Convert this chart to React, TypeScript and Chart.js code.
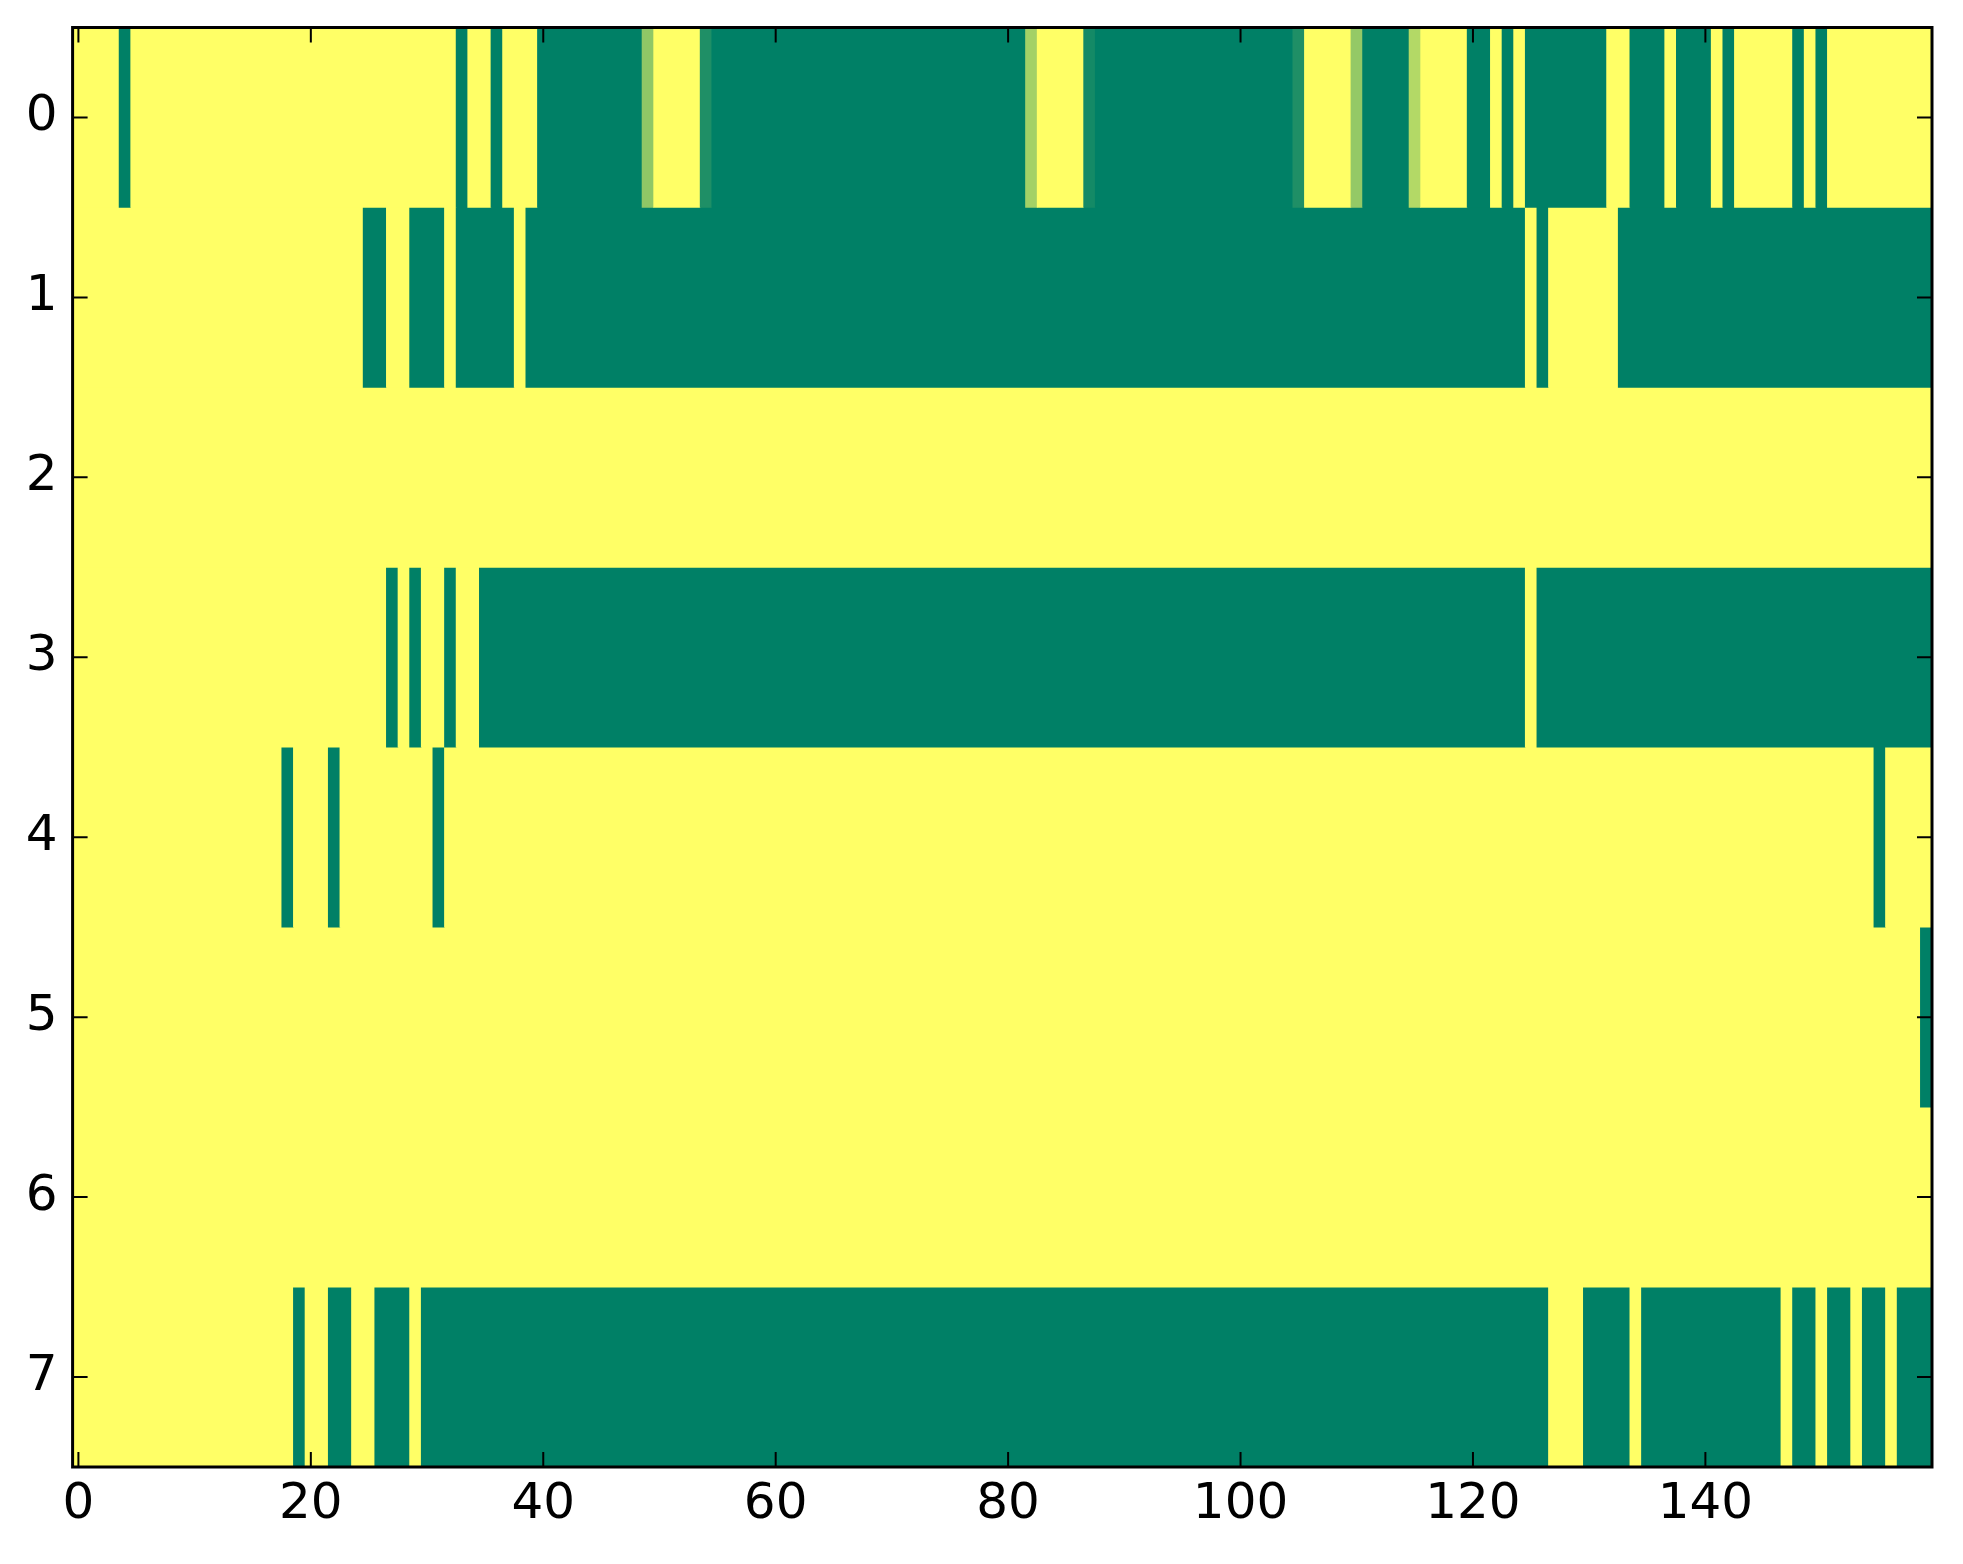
import React, { useEffect, useRef } from 'react';
import { Chart, registerables } from 'chart.js';

Chart.register(...registerables);

// Row labels (y axis) and x tick values
const rowLabels = ['0', '1', '2', '3', '4', '5', '6', '7'];
const xTickValues = [0, 20, 40, 60, 80, 100, 120, 140];

// Cell values, 160 columns per row (0 = yellow, 1 = green, summer_r colormap)
const row0 = [
  0,0,0,0,1,0,0,0,0,0,0,0,0,0,0,0,0,0,0,0,
  0,0,0,0,0,0,0,0,0,0,0,0,0,1,0,0,1,0,0,0,
  1,1,1,1,1,1,1,1,1,0.44,0,0,0,0,0.88,1,1,1,1,1,
  1,1,1,1,1,1,1,1,1,1,1,1,1,1,1,1,1,1,1,1,
  1,1,0.36,0,0,0,0,0.92,1,1,1,1,1,1,1,1,1,1,1,1,
  1,1,1,1,1,0.88,0,0,0,0,0.42,1,1,1,1,0.3,0,0,0,0,
  1,1,0,1,0,1,1,1,1,1,1,1,0,0,1,1,1,0,1,1,
  1,0,1,0,0,0,0,0,1,0,1,0,0,0,0,0,0,0,0,0,
];
const row1 = [
  0,0,0,0,0,0,0,0,0,0,0,0,0,0,0,0,0,0,0,0,
  0,0,0,0,0,1,1,0,0,1,1,1,0,1,1,1,1,1,0,1,
  1,1,1,1,1,1,1,1,1,1,1,1,1,1,1,1,1,1,1,1,
  1,1,1,1,1,1,1,1,1,1,1,1,1,1,1,1,1,1,1,1,
  1,1,1,1,1,1,1,1,1,1,1,1,1,1,1,1,1,1,1,1,
  1,1,1,1,1,1,1,1,1,1,1,1,1,1,1,1,1,1,1,1,
  1,1,1,1,1,0,1,0,0,0,0,0,0,1,1,1,1,1,1,1,
  1,1,1,1,1,1,1,1,1,1,1,1,1,1,1,1,1,1,1,1,
];
const row2 = [
  0,0,0,0,0,0,0,0,0,0,0,0,0,0,0,0,0,0,0,0,
  0,0,0,0,0,0,0,0,0,0,0,0,0,0,0,0,0,0,0,0,
  0,0,0,0,0,0,0,0,0,0,0,0,0,0,0,0,0,0,0,0,
  0,0,0,0,0,0,0,0,0,0,0,0,0,0,0,0,0,0,0,0,
  0,0,0,0,0,0,0,0,0,0,0,0,0,0,0,0,0,0,0,0,
  0,0,0,0,0,0,0,0,0,0,0,0,0,0,0,0,0,0,0,0,
  0,0,0,0,0,0,0,0,0,0,0,0,0,0,0,0,0,0,0,0,
  0,0,0,0,0,0,0,0,0,0,0,0,0,0,0,0,0,0,0,0,
];
const row3 = [
  0,0,0,0,0,0,0,0,0,0,0,0,0,0,0,0,0,0,0,0,
  0,0,0,0,0,0,0,1,0,1,0,0,1,0,0,1,1,1,1,1,
  1,1,1,1,1,1,1,1,1,1,1,1,1,1,1,1,1,1,1,1,
  1,1,1,1,1,1,1,1,1,1,1,1,1,1,1,1,1,1,1,1,
  1,1,1,1,1,1,1,1,1,1,1,1,1,1,1,1,1,1,1,1,
  1,1,1,1,1,1,1,1,1,1,1,1,1,1,1,1,1,1,1,1,
  1,1,1,1,1,0,1,1,1,1,1,1,1,1,1,1,1,1,1,1,
  1,1,1,1,1,1,1,1,1,1,1,1,1,1,1,1,1,1,1,1,
];
const row4 = [
  0,0,0,0,0,0,0,0,0,0,0,0,0,0,0,0,0,0,1,0,
  0,0,1,0,0,0,0,0,0,0,0,1,0,0,0,0,0,0,0,0,
  0,0,0,0,0,0,0,0,0,0,0,0,0,0,0,0,0,0,0,0,
  0,0,0,0,0,0,0,0,0,0,0,0,0,0,0,0,0,0,0,0,
  0,0,0,0,0,0,0,0,0,0,0,0,0,0,0,0,0,0,0,0,
  0,0,0,0,0,0,0,0,0,0,0,0,0,0,0,0,0,0,0,0,
  0,0,0,0,0,0,0,0,0,0,0,0,0,0,0,0,0,0,0,0,
  0,0,0,0,0,0,0,0,0,0,0,0,0,0,0,1,0,0,0,0,
];
const row5 = [
  0,0,0,0,0,0,0,0,0,0,0,0,0,0,0,0,0,0,0,0,
  0,0,0,0,0,0,0,0,0,0,0,0,0,0,0,0,0,0,0,0,
  0,0,0,0,0,0,0,0,0,0,0,0,0,0,0,0,0,0,0,0,
  0,0,0,0,0,0,0,0,0,0,0,0,0,0,0,0,0,0,0,0,
  0,0,0,0,0,0,0,0,0,0,0,0,0,0,0,0,0,0,0,0,
  0,0,0,0,0,0,0,0,0,0,0,0,0,0,0,0,0,0,0,0,
  0,0,0,0,0,0,0,0,0,0,0,0,0,0,0,0,0,0,0,0,
  0,0,0,0,0,0,0,0,0,0,0,0,0,0,0,0,0,0,0,1,
];
const row6 = [
  0,0,0,0,0,0,0,0,0,0,0,0,0,0,0,0,0,0,0,0,
  0,0,0,0,0,0,0,0,0,0,0,0,0,0,0,0,0,0,0,0,
  0,0,0,0,0,0,0,0,0,0,0,0,0,0,0,0,0,0,0,0,
  0,0,0,0,0,0,0,0,0,0,0,0,0,0,0,0,0,0,0,0,
  0,0,0,0,0,0,0,0,0,0,0,0,0,0,0,0,0,0,0,0,
  0,0,0,0,0,0,0,0,0,0,0,0,0,0,0,0,0,0,0,0,
  0,0,0,0,0,0,0,0,0,0,0,0,0,0,0,0,0,0,0,0,
  0,0,0,0,0,0,0,0,0,0,0,0,0,0,0,0,0,0,0,0,
];
const row7 = [
  0,0,0,0,0,0,0,0,0,0,0,0,0,0,0,0,0,0,0,1,
  0,0,1,1,0,0,1,1,1,0,1,1,1,1,1,1,1,1,1,1,
  1,1,1,1,1,1,1,1,1,1,1,1,1,1,1,1,1,1,1,1,
  1,1,1,1,1,1,1,1,1,1,1,1,1,1,1,1,1,1,1,1,
  1,1,1,1,1,1,1,1,1,1,1,1,1,1,1,1,1,1,1,1,
  1,1,1,1,1,1,1,1,1,1,1,1,1,1,1,1,1,1,1,1,
  1,1,1,1,1,1,1,0,0,0,1,1,1,1,0,1,1,1,1,1,
  1,1,1,1,1,1,1,0,1,1,0,1,1,0,1,1,0,1,1,1,
];

const rows = [row0, row1, row2, row3, row4, row5, row6, row7];

// summer_r colormap: v=0 -> yellow, v=1 -> green
function summerR(v: number): string {
  const t = 1 - v;
  return `rgb(${Math.round(255 * t)}, ${Math.round(255 * (0.5 + 0.5 * t))}, 102)`;
}

// Merge consecutive equal cells of a row into runs (floating bars)
function toRuns(row: number[], r: number) {
  const out: { x: [number, number]; y: string; v: number }[] = [];
  let s = 0;
  for (let i = 1; i <= row.length; i++) {
    if (i === row.length || row[i] !== row[s]) {
      out.push({ x: [s - 0.5, i - 0.5], y: rowLabels[r], v: row[s] });
      s = i;
    }
  }
  return out;
}

const FONT = { family: 'DejaVu Sans', size: 50 };

const framePlugin = {
  id: 'frame',
  afterDraw(chart: any) {
    const { ctx, chartArea, scales } = chart;
    const { left, right, top, bottom } = chartArea;
    const x = scales.x;
    const y = scales.y;
    const tl = 15;
    ctx.save();
    ctx.strokeStyle = '#000';
    ctx.lineWidth = 2;
    ctx.beginPath();
    xTickValues.forEach((v) => {
      const px = x.getPixelForValue(v);
      ctx.moveTo(px, bottom);
      ctx.lineTo(px, bottom - tl);
      ctx.moveTo(px, top);
      ctx.lineTo(px, top + tl);
    });
    rowLabels.forEach((_, i) => {
      const py = y.getPixelForValue(i);
      ctx.moveTo(left, py);
      ctx.lineTo(left + tl, py);
      ctx.moveTo(right, py);
      ctx.lineTo(right - tl, py);
    });
    ctx.stroke();
    ctx.lineWidth = 3;
    ctx.strokeRect(left, top, right - left, bottom - top);
    ctx.restore();
  },
};

export default function App() {
  const ref = useRef<HTMLCanvasElement | null>(null);

  useEffect(() => {
    document.body.style.margin = '0';
    const canvas = ref.current;
    if (!canvas) return;

    const datasets = rows.map((row, r) => {
      const runs = toRuns(row, r);
      return {
        label: 'row ' + r,
        data: runs as any,
        backgroundColor: runs.map((p) => summerR(p.v)),
        borderWidth: 0,
        grouped: false,
        barPercentage: 1,
        categoryPercentage: 1,
      };
    });

    const chart = new Chart(canvas, {
      type: 'bar',
      data: { labels: rowLabels, datasets },
      options: {
        indexAxis: 'y',
        animation: false,
        responsive: false,
        maintainAspectRatio: false,
        layout: { padding: { left: 0, right: 31, top: 27.5, bottom: 0 } },
        plugins: {
          legend: { display: false },
          tooltip: { enabled: false },
        },
        scales: {
          x: {
            type: 'linear',
            position: 'bottom',
            min: -0.5,
            max: 159.5,
            grid: { display: false, drawTicks: false },
            border: { display: false },
            afterBuildTicks: (s: any) => {
              s.ticks = xTickValues.map((v) => ({ value: v }));
            },
            afterFit: (s: any) => {
              s.height = 97;
              s.paddingLeft = 0;
              s.paddingRight = 0;
              s.paddingTop = 0;
              s.paddingBottom = 0;
            },
            ticks: {
              font: FONT,
              color: '#000',
              padding: 8,
              maxRotation: 0,
              autoSkip: false,
              callback: (v: any) => String(v),
            },
          },
          y: {
            type: 'category',
            labels: rowLabels,
            offset: true,
            grid: { display: false, drawTicks: false },
            border: { display: false },
            afterFit: (s: any) => {
              s.width = 72.6;
              s.paddingTop = 0;
              s.paddingBottom = 0;
              s.paddingLeft = 0;
              s.paddingRight = 0;
            },
            ticks: {
              font: FONT,
              color: '#000',
              padding: 15,
            },
          },
        },
      } as any,
      plugins: [framePlugin],
    });

    return () => {
      chart.destroy();
    };
  }, []);

  return (
    <div style={{ width: 1963, height: 1564 }}>
      <canvas ref={ref} width={1963} height={1564} style={{ display: 'block' }} />
    </div>
  );
}
